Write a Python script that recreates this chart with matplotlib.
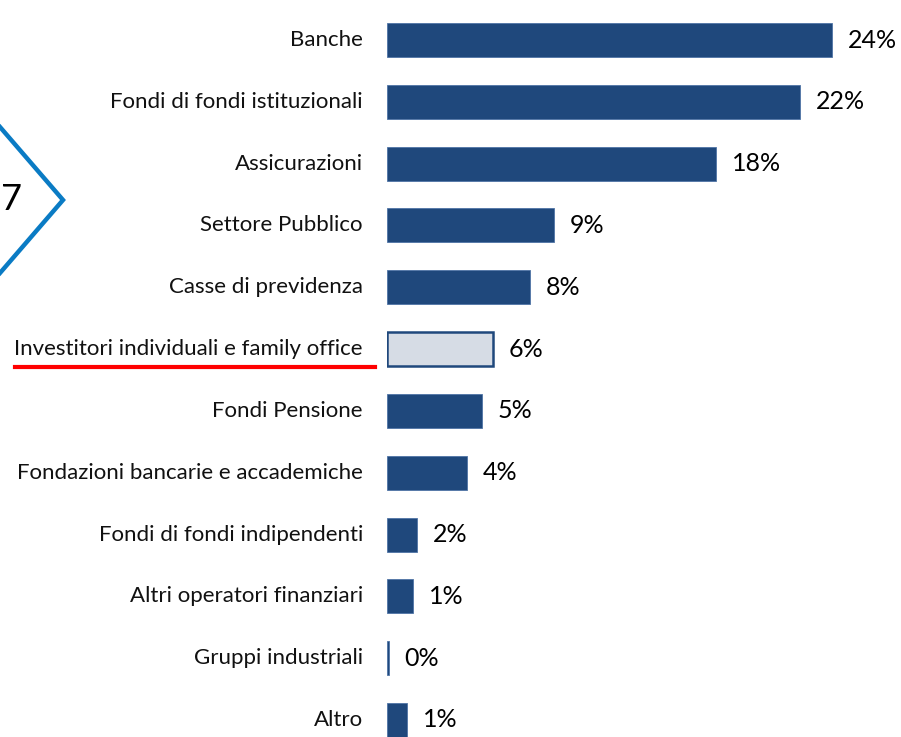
import matplotlib.pyplot as plt
from matplotlib.lines import Line2D

categories = ['Banche', 'Fondi di fondi istituzionali', 'Assicurazioni', 'Settore Pubblico',
              'Casse di previdenza', 'Investitori individuali e family office', 'Fondi Pensione',
              'Fondazioni bancarie e accademiche', 'Fondi di fondi indipendenti',
              'Altri operatori finanziari', 'Gruppi industriali', 'Altro']
values = [24.0, 22.3, 17.75, 9.0, 7.7, 5.7, 5.1, 4.3, 1.6, 1.4, 0.1, 1.1]
labels = ['24%', '22%', '18%', '9%', '8%', '6%', '5%', '4%', '2%', '1%', '0%', '1%']
highlight = 'Investitori individuali e family office'

plt.rcParams['font.family'] = ['Lato', 'DejaVu Sans']

W, H = 901, 737
fig = plt.figure(figsize=(W / 100, H / 100), dpi=100)
ax = fig.add_axes([387 / W, 0, 1 - 387 / W, 1])

dark = '#1F487C'
pitch = 61.8
top = -40 / pitch
bottom = 11 + (H - 720) / pitch

for i, (cat, v, lab) in enumerate(zip(categories, values, labels)):
    if cat == highlight:
        ax.barh(i, v, height=0.55, color='#D6DCE5', edgecolor=dark, linewidth=1.8)
    else:
        ax.barh(i, v, height=0.55, color=dark, edgecolor='#4F74A6', linewidth=0.6)
    ax.text(v + 0.85, i, lab, va='center', ha='left', fontsize=18, color='black')
    ax.text(-24 / 18.54, i, cat, va='center', ha='right', fontsize=16, color='#111111')

ax.set_xlim(0, (W - 387) / 18.54)
ax.set_ylim(bottom, top)
ax.vlines(-0.1, -0.5, bottom, color='#D9D9D9', linewidth=2)
ax.axis('off')

# red underline under the highlighted category
fig.add_artist(Line2D([15 / W, 375 / W], [1 - 367 / H, 1 - 367 / H], color='#FF0000', linewidth=3))

# partial blue chevron on the left
fig.add_artist(Line2D([0, 63 / W, 0], [1 - 127 / H, 1 - 200 / H, 1 - 273 / H],
                      color='#0A7BC4', linewidth=3.2, solid_joinstyle='miter'))
fig.text(0.001, 1 - 200 / H, '7', fontsize=26, va='center', ha='left', color='black')

fig.savefig('out.png', dpi=100)
